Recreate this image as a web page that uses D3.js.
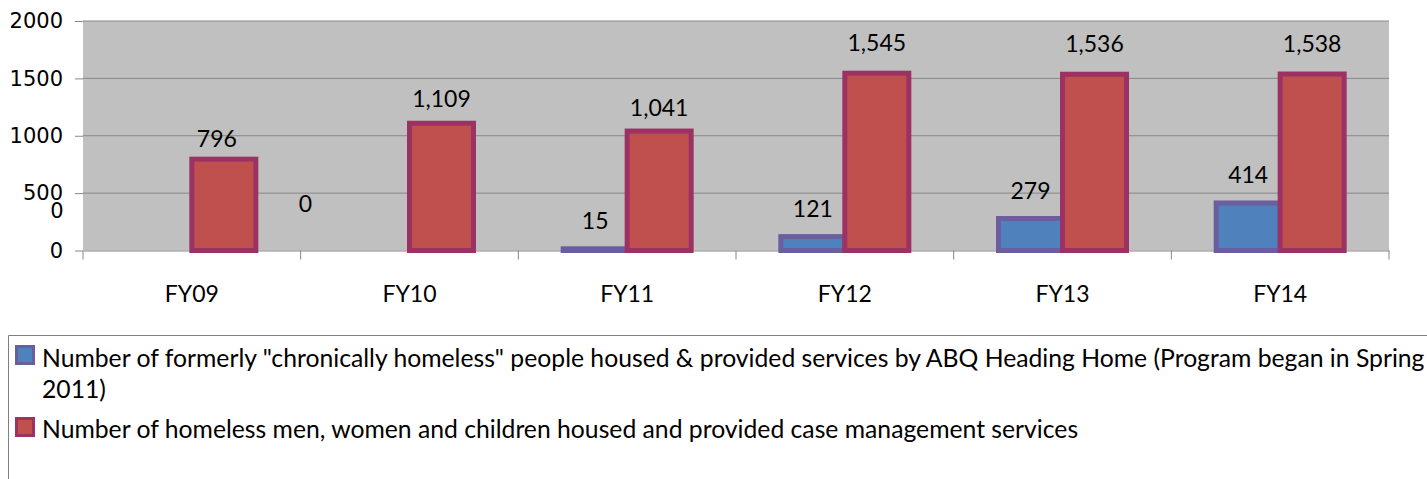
<!DOCTYPE html>
<html>
<head>
<meta charset="utf-8">
<script src="https://cdn.jsdelivr.net/npm/d3@7"></script>
<style>
  html, body { margin: 0; padding: 0; background: #fff; }
  svg { display: block; }
</style>
</head>
<body>
<svg id="chart" width="1427" height="479"></svg>
<script>
// ---- data ----
const categories = ["FY09", "FY10", "FY11", "FY12", "FY13", "FY14"];
const chronicHoused = [0, 0, 15, 121, 279, 414];
const caseManaged = [796, 1109, 1041, 1545, 1536, 1538];
const yTicks = [0, 500, 1000, 1500, 2000];
const seriesNames = [
  'Number of formerly "chronically homeless" people housed & provided services by ABQ Heading Home (Program began in Spring 2011)',
  'Number of homeless men, women and children housed and provided case management services'
];

// ---- style / layout ----
const W = 1427, H = 479;
const plot = { left: 83, right: 1389, top: 21, bottom: 250.5 };
const colors = [
  { fill: "#4F81BD", stroke: "#6A5E9E" },
  { fill: "#C0504D", stroke: "#9B3263" }
];
const barFrac = 0.294;
const labelFont = "Lato, 'Open Sans', sans-serif";
const axisFont = "'DejaVu Sans', Verdana, sans-serif";
const labelSize = 23;
// Excel's odd placement of some labels (px nudges)
const blueNudge = [{ dx: -103, dy: -12, axisFont: true }, { dx: -72, dy: -19 }, null, null, null, null];
const redNudge = [{ dx: -7, dy: 0 }, null, null, null, null, null];

const svg = d3.select("#chart");

const x = d3.scaleBand().domain(categories).range([plot.left, plot.right]).padding(0);
const y = d3.scaleLinear().domain([0, 2000]).range([plot.bottom, plot.top]);
const bw = x.bandwidth() * barFrac;

// background
svg.append("rect")
  .attr("x", plot.left).attr("y", plot.top)
  .attr("width", plot.right - plot.left).attr("height", plot.bottom - plot.top)
  .attr("fill", "#C0C0C0");

// gridlines
svg.append("g").selectAll("line").data(yTicks.filter(d => d > 0)).join("line")
  .attr("x1", plot.left).attr("x2", plot.right)
  .attr("y1", d => y(d)).attr("y2", d => y(d))
  .attr("stroke", "#878787").attr("stroke-width", 1);

// y axis
const yAxis = d3.axisLeft(y).tickValues(yTicks).tickFormat(d3.format("d")).tickSize(8).tickPadding(12);
const gy = svg.append("g").attr("transform", `translate(${plot.left},0)`).call(yAxis);
gy.select(".domain").remove();
gy.selectAll(".tick line").attr("stroke", "#878787");
gy.selectAll(".tick text").attr("font-family", axisFont).attr("font-size", 21).attr("fill", "#000");

// x axis
const gx = svg.append("g").attr("transform", `translate(0,${plot.bottom})`)
  .call(d3.axisBottom(x).tickSize(0).tickPadding(35));
gx.select(".domain").attr("stroke", "#878787");
gx.selectAll(".tick text").attr("font-family", labelFont).attr("font-size", labelSize).attr("fill", "#000");
// category boundary ticks
const bounds = categories.map(c => x(c)).concat([plot.right]);
svg.append("g").selectAll("line").data(bounds).join("line")
  .attr("x1", d => d).attr("x2", d => d)
  .attr("y1", plot.bottom).attr("y2", plot.bottom + 9)
  .attr("stroke", "#878787");

// bars
const series = [chronicHoused, caseManaged];
series.forEach((vals, si) => {
  svg.append("g").selectAll("rect").data(vals).join("rect")
    .attr("x", (d, i) => x(categories[i]) + x.bandwidth() / 2 + (si === 0 ? -bw : 0))
    .attr("y", d => y(d))
    .attr("width", bw)
    .attr("height", d => y(0) - y(d))
    .attr("fill", colors[si].fill)
    .attr("stroke", colors[si].stroke)
    .attr("stroke-width", 5)
    .attr("display", d => d > 0 ? null : "none");
});

// data labels
const fmt = d3.format(",");
svg.append("g").selectAll("text").data(chronicHoused).join("text")
  .attr("x", (d, i) => x(categories[i]) + x.bandwidth() / 2 - bw / 2 + (blueNudge[i] ? blueNudge[i].dx : 0))
  .attr("y", (d, i) => y(d) - 28 + (blueNudge[i] ? blueNudge[i].dy : 0))
  .attr("dy", "0.35em")
  .attr("text-anchor", "middle")
  .attr("font-family", (d, i) => blueNudge[i] && blueNudge[i].axisFont ? axisFont : labelFont)
  .attr("font-size", (d, i) => blueNudge[i] && blueNudge[i].axisFont ? 21 : labelSize)
  .text(d => fmt(d));

svg.append("g").selectAll("text").data(caseManaged).join("text")
  .attr("x", (d, i) => x(categories[i]) + x.bandwidth() / 2 + bw / 2 + (redNudge[i] ? redNudge[i].dx : 0))
  .attr("y", d => y(d * 1.113) - 10)
  .attr("dy", "0.35em")
  .attr("text-anchor", "middle")
  .attr("font-family", labelFont).attr("font-size", labelSize)
  .text(d => fmt(d));

// legend box (top and left border, extends past the page)
svg.append("path")
  .attr("d", `M8.5,${H + 5}V335.5H${W + 5}`)
  .attr("fill", "none").attr("stroke", "#7F7F7F").attr("stroke-width", 1);

// legend
const legendX = 42;
const legendG = svg.append("g");
// entry 1 wraps before its last word, as in the reference
const legendLines = seriesNames.map((name, si) => {
  if (si === 0) {
    const words = name.split(" ");
    return [words.slice(0, -1).join(" "), words[words.length - 1]];
  }
  return [name];
});
function measure(str, size) {
  const p = legendG.append("text").attr("font-family", labelFont).attr("font-size", size).text(str);
  const w = p.node().getComputedTextLength();
  p.remove();
  return w;
}
// fit font size to the widths of the reference lines
const s1 = 22 * 1383 / measure(legendLines[0][0], 22);
const s2 = 22 * 1041 / measure(legendLines[1][0], 22);
const legendSize = Math.min(s1, s2);

const legendRows = [
  { swatchY: 345, baseline: 367 },
  { swatchY: 417, baseline: 438 }
];
const lineGap = 31;
legendLines.forEach((lines, si) => {
  const r = legendRows[si];
  legendG.append("rect")
    .attr("x", 16.5).attr("y", r.swatchY + 1.5)
    .attr("width", 17).attr("height", 17)
    .attr("fill", colors[si].fill)
    .attr("stroke", colors[si].stroke).attr("stroke-width", 3);
  const t = legendG.append("text")
    .attr("font-family", labelFont).attr("font-size", legendSize).attr("fill", "#000");
  lines.forEach((ln, li) => {
    t.append("tspan").attr("x", legendX).attr("y", r.baseline + li * lineGap).text(ln);
  });
});
</script>
</body>
</html>
